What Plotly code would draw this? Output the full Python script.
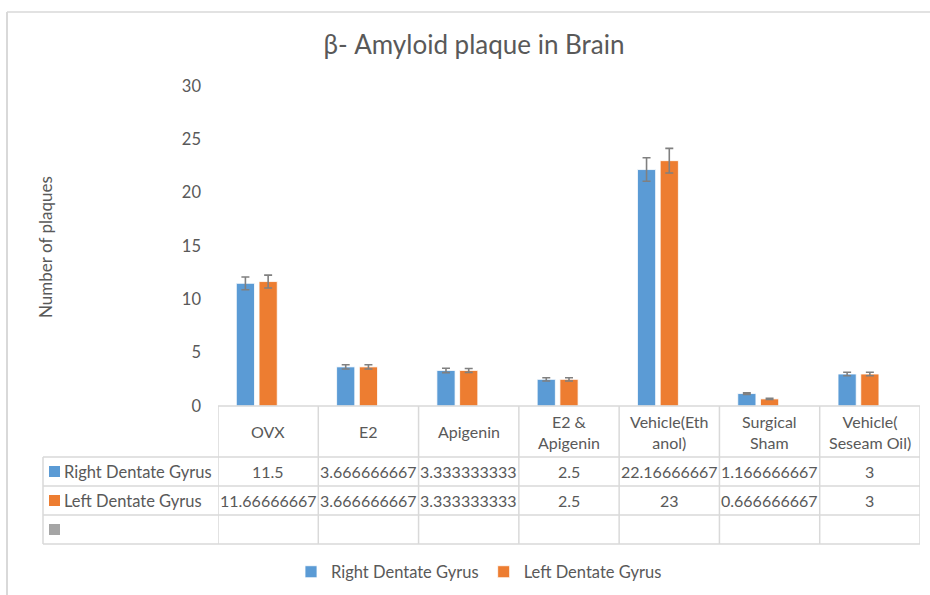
import plotly.graph_objects as go

categories = ["OVX", "E2", "Apigenin", "E2 & Apigenin", "Vehicle(Ethanol)", "Surgical Sham", "Vehicle( Seseam Oil)"]
header_labels = ["OVX", "E2", "Apigenin", "E2 &<br>Apigenin", "Vehicle(Eth<br>anol)", "Surgical<br>Sham", "Vehicle(<br>Seseam Oil)"]
right_dg = [11.5, 3.666666667, 3.333333333, 2.5, 22.16666667, 1.166666667, 3]
left_dg = [11.66666667, 3.666666667, 3.333333333, 2.5, 23, 0.666666667, 3]
right_err = [0.6, 0.2, 0.2, 0.15, 1.1, 0.08, 0.17]
left_err = [0.6, 0.2, 0.18, 0.15, 1.15, 0.05, 0.17]
series3 = [None] * 7
series_names = ["Right Dentate Gyrus", "Left Dentate Gyrus"]
y_ticks = [0, 5, 10, 15, 20, 25, 30]

BLUE = "#5B9BD5"
ORANGE = "#ED7D31"
GRAY = "#A5A5A5"
TXT = "#595959"
LINE = "#D9D9D9"
FONT = "Lato"

W, H = 930, 595
L, R, T, B = 218, 10, 86, 189
PW = W - L - R
PH = H - T - B


def px(x):
    return (x - L) / PW


def py(y):
    return (H - B - y) / PH


xs = list(range(len(categories)))

fig = go.Figure()
err_style = dict(type="data", color="#808080", thickness=1.6, width=4)
fig.add_trace(go.Bar(x=xs, y=right_dg, name=series_names[0], marker=dict(color=BLUE, line=dict(color="white", width=0.8)),
                     error_y=dict(array=right_err, **err_style)))
fig.add_trace(go.Bar(x=xs, y=left_dg, name=series_names[1], marker=dict(color=ORANGE, line=dict(color="white", width=0.8)),
                     error_y=dict(array=left_err, **err_style)))
fig.add_trace(go.Bar(x=xs, y=series3, name="", marker=dict(color=GRAY), showlegend=False))

shapes = []
annotations = []

# table geometry (pixel rows)
y_axis = 406
y_hdr = 457
y_r1 = 486
y_r2 = 515
y_r3 = 544
x_left = 43

# horizontal lines
shapes.append(dict(type="line", xref="x", yref="paper", x0=-0.5, x1=len(categories) - 0.5,
                   y0=py(y_axis), y1=py(y_axis), line=dict(color=LINE, width=1.5)))
for yy in [y_hdr, y_r1, y_r2, y_r3]:
    shapes.append(dict(type="line", xref="paper", yref="paper", x0=px(x_left), x1=1,
                       y0=py(yy), y1=py(yy), line=dict(color=LINE, width=1.5)))
# vertical lines
shapes.append(dict(type="line", xref="paper", yref="paper", x0=px(x_left), x1=px(x_left),
                   y0=py(y_hdr), y1=py(y_r3), line=dict(color=LINE, width=1.5)))
for i in range(len(categories) + 1):
    shapes.append(dict(type="line", xref="x", yref="paper", x0=i - 0.5, x1=i - 0.5,
                       y0=py(y_axis), y1=py(y_r3), line=dict(color=LINE, width=1.5)))

# chart border (top and left)
shapes.append(dict(type="line", xref="paper", yref="paper", x0=px(7), x1=px(930), y0=py(12), y1=py(12),
                   line=dict(color=LINE, width=1.5)))
shapes.append(dict(type="line", xref="paper", yref="paper", x0=px(7), x1=px(7), y0=py(12), y1=py(595),
                   line=dict(color=LINE, width=2)))

# header labels
for i, lab in enumerate(header_labels):
    annotations.append(dict(x=i, y=py((y_axis + y_hdr) / 2), xref="x", yref="paper", text=lab, showarrow=False,
                            xanchor="center", yanchor="middle", font=dict(family=FONT, size=16, color=TXT),
                            align="center"))

# row labels + swatches + values
rows = [(series_names[0], BLUE, right_dg, (y_hdr + y_r1) / 2),
        (series_names[1], ORANGE, left_dg, (y_r1 + y_r2) / 2),
        ("", GRAY, series3, (y_r2 + y_r3) / 2)]
for name, col, vals, yc in rows:
    shapes.append(dict(type="rect", xref="paper", yref="paper", x0=px(49), x1=px(60),
                       y0=py(yc + 5.5), y1=py(yc - 5.5), fillcolor=col, line=dict(width=0)))
    if name:
        annotations.append(dict(x=px(62), y=py(yc), xref="paper", yref="paper", text=name, showarrow=False,
                                xanchor="left", yanchor="middle", font=dict(family=FONT, size=16.5, color=TXT)))
    for i, v in enumerate(vals):
        if v is None:
            continue
        annotations.append(dict(x=i, y=py(yc), xref="x", yref="paper", text=f"{v:.10g}", showarrow=False,
                                xanchor="center", yanchor="middle", font=dict(family=FONT, size=16, color=TXT)))

# y-axis title
annotations.append(dict(x=px(45), y=py(247), xref="paper", yref="paper", text="Number of plaques", showarrow=False,
                        textangle=-90, xanchor="center", yanchor="middle", font=dict(family=FONT, size=17, color=TXT)))

fig.update_layout(
    width=W, height=H,
    margin=dict(l=L, r=R, t=T, b=B),
    paper_bgcolor="white", plot_bgcolor="white",
    barmode="group", bargap=0.32, bargroupgap=0.2,
    title=dict(text="β- Amyloid plaque in Brain", x=474 / W, xref="container", xanchor="center",
               y=1 - 45 / H, yref="container", yanchor="middle", font=dict(family=FONT, size=26, color=TXT)),
    xaxis=dict(range=[-0.5, len(categories) - 0.5], showticklabels=False, showgrid=False, zeroline=False,
               showline=False, ticks=""),
    yaxis=dict(range=[0, 30], tickvals=y_ticks, showgrid=False, zeroline=False, showline=False, ticks="",
               tickfont=dict(family=FONT, size=16.5, color=TXT), ticklabelstandoff=16),
    legend=dict(orientation="h", x=479 / W, xref="container", xanchor="center", y=1 - 572 / H, yref="container",
                yanchor="middle", font=dict(family=FONT, size=16.5, color=TXT), itemwidth=30, traceorder="normal"),
    shapes=shapes, annotations=annotations,
    showlegend=True,
)

fig.write_html("out.html", config={"displayModeBar": False},
               post_script="document.body.style.margin='0';document.body.style.overflow='hidden';")
